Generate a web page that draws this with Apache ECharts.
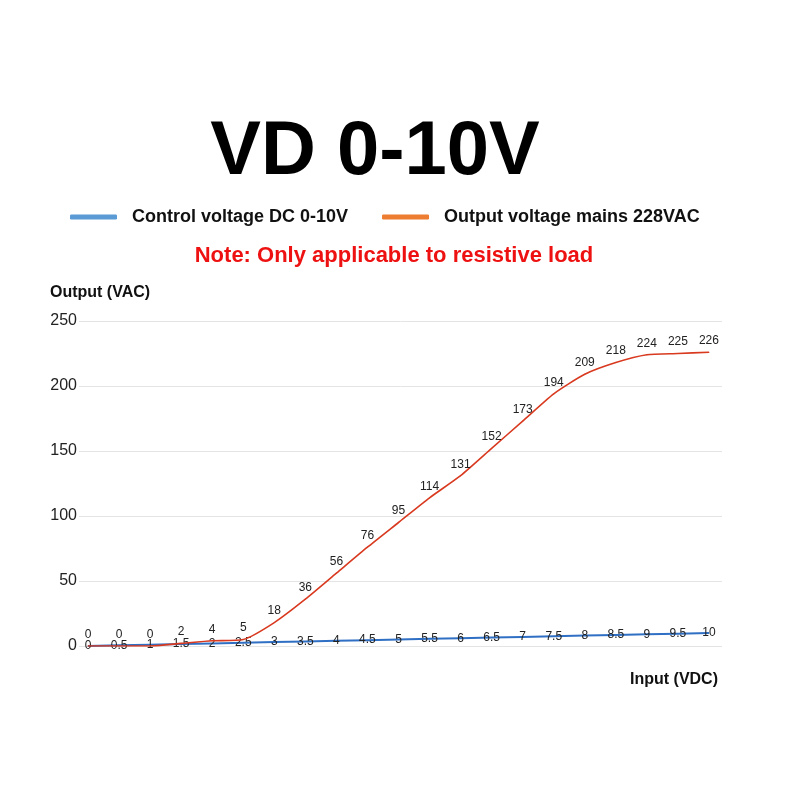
<!DOCTYPE html>
<html>
<head>
<meta charset="utf-8">
<script src="https://cdn.jsdelivr.net/npm/echarts@6/dist/echarts.min.js"></script>
<style>
html,body{margin:0;padding:0;background:#fff;}
#chart{width:800px;height:800px;}
</style>
</head>
<body>
<div id="chart"></div>
<script>
// ---- data ----
var inputVDC = [0,0.5,1,1.5,2,2.5,3,3.5,4,4.5,5,5.5,6,6.5,7,7.5,8,8.5,9,9.5,10];
var controlVoltage = [0,0.5,1,1.5,2,2.5,3,3.5,4,4.5,5,5.5,6,6.5,7,7.5,8,8.5,9,9.5,10];
var outputVoltage = [0,0,0,2,4,5,18,36,56,76,95,114,131,152,173,194,209,218,224,225,226];
var seriesNames = ['Control voltage DC 0-10V','Output voltage mains 228VAC'];
var yTicks = [0,50,100,150,200,250];

var FONT = '"Liberation Sans", Arial, sans-serif';

function pairs(xs, ys){ return xs.map(function(x,i){ return [x, ys[i]]; }); }

var chart = echarts.init(document.getElementById('chart'), null, {renderer:'canvas'});
chart.setOption({
  backgroundColor:'#ffffff',
  animation:false,
  textStyle:{fontFamily:FONT},
  graphic:[
    {type:'text', z:10, style:{text:'VD 0-10V', x:375, y:153, fill:'#000', font:'bold 76px '+FONT, textAlign:'center', textVerticalAlign:'middle'}},
    {type:'text', z:10, style:{text:'Note: Only applicable to resistive load', x:394, y:256, fill:'#ee1111', font:'bold 22px '+FONT, textAlign:'center', textVerticalAlign:'middle'}},
    {type:'text', z:10, style:{text:'Output (VAC)', x:50, y:293, fill:'#111', font:'bold 16px '+FONT, textAlign:'left', textVerticalAlign:'middle'}},
    {type:'text', z:10, style:{text:'Input (VDC)', x:718, y:680, fill:'#111', font:'bold 16px '+FONT, textAlign:'right', textVerticalAlign:'middle'}}
  ],
  legend:{
    left:65, top:203,
    icon:'roundRect',
    itemWidth:47, itemHeight:5, itemGap:34,
    textStyle:{fontSize:18, fontWeight:'bold', color:'#111', fontFamily:FONT, padding:[0,0,0,10]},
    data:[
      {name:seriesNames[0], itemStyle:{color:'#5b9bd5'}},
      {name:seriesNames[1], itemStyle:{color:'#ed7d31'}}
    ]
  },
  grid:{left:79, right:78, top:321, bottom:154, containLabel:false},
  xAxis:{
    type:'value', min:-0.145, max:10.21,
    axisLabel:{show:false}, axisTick:{show:false}, axisLine:{show:false}, splitLine:{show:false}
  },
  yAxis:{
    type:'value', min:yTicks[0], max:yTicks[yTicks.length-1], interval:50,
    axisLine:{show:false}, axisTick:{show:false},
    axisLabel:{fontSize:16, color:'#222', margin:2, fontFamily:FONT},
    splitLine:{lineStyle:{color:'#e4e4e4', width:1}}
  },
  series:[
    {
      name:seriesNames[0], type:'line',
      data:pairs(inputVDC, controlVoltage),
      symbol:'circle', symbolSize:1,
      itemStyle:{color:'#2f6fc4'},
      lineStyle:{color:'#2f6fc4', width:2},
      label:{show:true, position:'inside', fontSize:12, color:'#222', fontFamily:FONT,
        formatter:function(p){ return p.value[1]; }},
      z:2
    },
    {
      name:seriesNames[1], type:'line',
      data:pairs(inputVDC, outputVoltage),
      smooth:0.2,
      symbol:'circle', symbolSize:1,
      itemStyle:{color:'#d8391f'},
      lineStyle:{color:'#d8391f', width:1.6},
      label:{show:true, position:'top', distance:5, fontSize:12, color:'#222', fontFamily:FONT,
        formatter:function(p){ return p.value[1]; }},
      z:3
    }
  ]
});
</script>
</body>
</html>
